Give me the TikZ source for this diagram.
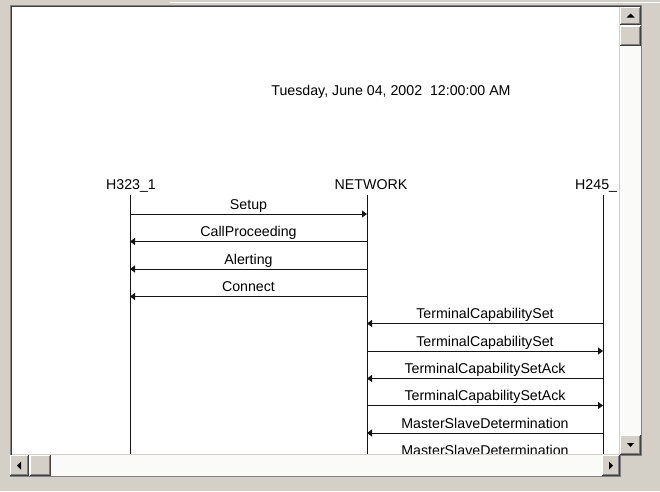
\documentclass[tikz,border=0pt]{standalone}
\usepackage{fontspec}
\setmainfont{Liberation Sans}
\usetikzlibrary{arrows.meta}
\definecolor{winface}{HTML}{D4D0C8}
\definecolor{winshadow}{HTML}{808080}
\definecolor{windark}{HTML}{404040}
\definecolor{lineink}{HTML}{141414}
\definecolor{trackfill}{HTML}{FAFAF8}

% raised 3D push button: x1, y1, x2, y2 (y grows downwards)
\newcommand\winbtn[4]{%
  \fill[winface] (#1,#2) rectangle (#3,#4);
  \draw[white,line width=1pt] (#1+0.5,#4-1) -- (#1+0.5,#2+0.5) -- (#3-1,#2+0.5);
  \draw[winshadow,line width=1pt] (#1+1,#4-1.5) -- (#3-1.5,#4-1.5) -- (#3-1.5,#2+1);
  \draw[windark,line width=1pt] (#1,#4-0.5) -- (#3-0.5,#4-0.5) -- (#3-0.5,#2);
}

\begin{document}
\begin{tikzpicture}[x=1pt,y=-1pt,
  lbl/.style={font=\fontsize{14.2}{17}\selectfont, inner sep=0pt, anchor=base, text=black},
  lifeline/.style={draw=lineink, line width=1pt},
  msg/.style={draw=lineink, line width=1pt, -{Triangle[length=5pt,width=7pt]}},
  glyph/.style={fill=black}]

% window background
\fill[winface] (0,0) rectangle (660,491);
\useasboundingbox (0,0) rectangle (660,491);
\draw[white,line width=1pt] (170,2.5) -- (660,2.5);

% drawing canvas
\fill[white] (12,7) rectangle (620,454);

% sunken frame edges
\draw[winshadow,line width=1pt] (10,5.5) -- (642,5.5);
\draw[windark,line width=1pt] (11,6.5) -- (642,6.5);
\draw[winshadow,line width=1pt] (10.5,5) -- (10.5,477);
\draw[windark,line width=1pt] (11.5,6) -- (11.5,455);
\draw[winshadow,line width=1pt] (641.5,6) -- (641.5,455.5) -- (620.5,455.5) -- (620.5,476.5) -- (10,476.5);

% vertical scroll bar
\fill[trackfill] (620,7) rectangle (641,435);
\draw[winface,line width=1pt] (619.5,7) -- (619.5,455);
\winbtn{620}{7}{641}{25}
\fill[glyph] (626.5,17.5) -- (634.5,17.5) -- (630.5,13.5) -- cycle;
\winbtn{620}{26}{641}{46}
\winbtn{620}{435}{641}{455}
\fill[glyph] (627,443) -- (634,443) -- (630.5,447) -- cycle;

% horizontal scroll bar
\fill[trackfill] (11,455) rectangle (620,476);
\draw[winface,line width=1pt] (12,454.5) -- (620,454.5);
\winbtn{10}{455}{29}{476}
\fill[glyph] (21,461.5) -- (21,469.5) -- (17,465.5) -- cycle;
\winbtn{30}{455}{51}{476}
\winbtn{602}{455}{620}{476}
\fill[glyph] (609,461.5) -- (609,469.5) -- (613,465.5) -- cycle;

% sequence chart, clipped to the visible canvas
\begin{scope}
\clip (12,7) rectangle (619,453);

\node[lbl] (date) at (391,95) {Tuesday, June 04, 2002\ \ 12:00:00 AM};

% lifeline heads
\node[lbl] (h323) at (131,189) {H323\_1};
\node[lbl] (net) at (371,189) {NETWORK};
\node[lbl, anchor=base west] (h245) at (575,189) {H245\_};

\coordinate (l1) at (130,195);
\coordinate (l2) at (367,195);
\coordinate (l3) at (603,195);
\coordinate (e1) at (130,470);
\coordinate (e2) at (367,470);
\coordinate (e3) at (603,470);
\draw[lifeline] (l1) -- (e1);
\draw[lifeline] (l2) -- (e2);
\draw[lifeline] (l3) -- (e3);

% message rows
\coordinate (r1) at (0,214);
\coordinate (r2) at (0,241.5);
\coordinate (r3) at (0,269);
\coordinate (r4) at (0,296.5);
\coordinate (r5) at (0,323.5);
\coordinate (r6) at (0,351);
\coordinate (r7) at (0,378.5);
\coordinate (r8) at (0,405.5);
\coordinate (r9) at (0,433);
\coordinate (r10) at (0,460);

\draw[msg] (l1 |- r1) -- (l2 |- r1) node[lbl, midway, yshift=5pt] (m1) {Setup};
\draw[msg] (l2 |- r2) -- (l1 |- r2) node[lbl, midway, yshift=5pt] (m2) {CallProceeding};
\draw[msg] (l2 |- r3) -- (l1 |- r3) node[lbl, midway, yshift=5pt] (m3) {Alerting};
\draw[msg] (l2 |- r4) -- (l1 |- r4) node[lbl, midway, yshift=5pt] (m4) {Connect};
\draw[msg] (l3 |- r5) -- (l2 |- r5) node[lbl, midway, yshift=5pt] (m5) {TerminalCapabilitySet};
\draw[msg] (l2 |- r6) -- (l3 |- r6) node[lbl, midway, yshift=5pt] (m6) {TerminalCapabilitySet};
\draw[msg] (l3 |- r7) -- (l2 |- r7) node[lbl, midway, yshift=5pt] (m7) {TerminalCapabilitySetAck};
\draw[msg] (l2 |- r8) -- (l3 |- r8) node[lbl, midway, yshift=5pt] (m8) {TerminalCapabilitySetAck};
\draw[msg] (l3 |- r9) -- (l2 |- r9) node[lbl, midway, yshift=5pt] (m9) {MasterSlaveDetermination};
\draw[msg] (l2 |- r10) -- (l3 |- r10) node[lbl, midway, yshift=5pt] (m10) {MasterSlaveDetermination};
\end{scope}
\end{tikzpicture}
\end{document}
